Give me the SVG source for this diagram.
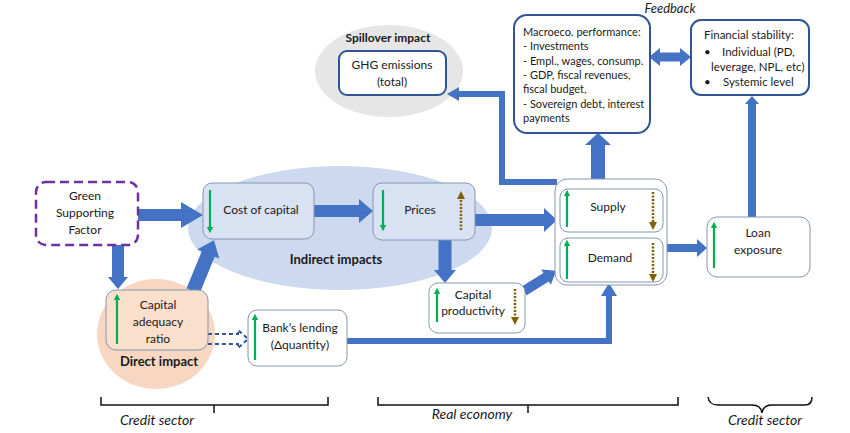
<svg xmlns="http://www.w3.org/2000/svg" width="850" height="433" viewBox="0 0 850 433">
<defs>
<marker id="gh" viewBox="0 0 10 10" refX="5" refY="5" markerWidth="3" markerHeight="3" orient="auto"><path d="M0,0 L10,5 L0,10 z" fill="#00b050"/></marker>
<marker id="bh" viewBox="0 0 10 10" refX="5" refY="5" markerWidth="3.2" markerHeight="3.2" orient="auto"><path d="M0,0 L10,5 L0,10 z" fill="#7f6000"/></marker>
<style>
text{font-family:Lato,"Liberation Sans",sans-serif;font-size:12px;fill:#1a1a1a}
.c{text-anchor:middle}
.b{font-weight:bold}
.i{font-style:italic}
.box{fill:#fff;stroke:#8497b0;stroke-width:1}
.bbox{fill:#fff;stroke:#2f5597;stroke-width:2}
.blk{fill:#4472c4;stroke:none}
.ln{fill:none;stroke:#4472c4}
.g{stroke:#00b050;stroke-width:2.2;fill:none;marker-end:url(#gh)}
.br{stroke:#7f6000;stroke-width:2.5;stroke-dasharray:2,1.5;fill:none;marker-end:url(#bh)}
.brace{fill:none;stroke:#111;stroke-width:1.5}
</style>
</defs>
<rect width="850" height="433" fill="#fff"/>

<!-- background areas -->
<ellipse cx="389" cy="71" rx="74" ry="46" fill="#e7e6e6"/>
<ellipse cx="340" cy="228" rx="152" ry="62" fill="#cdd9ef"/>
<ellipse cx="156" cy="334" rx="59" ry="55" fill="#f8d7c2"/>

<g id="connectors">
<polygon class="blk" points="138,209 181,209 181,202 203,215 181,228 181,221 138,221"/>
<polygon class="blk" points="112,245 124,245 124,277 128,277 118,289 108,277 112,277"/>
<polygon class="blk" points="0,-7 40,-7 40,-12 55,0 40,12 40,7 0,7" transform="translate(193,291) rotate(-67.6)"/>
<polygon class="blk" points="314,205 359,205 359,199 373,211 359,223 359,217 314,217"/>
<polygon class="blk" points="438.5,240 451.5,240 451.5,270 456,270 445,283 434,270 438.5,270"/>
<polygon class="blk" points="475,214 544,214 544,208 557,220 544,232 544,226 475,226"/>
<polygon class="blk" points="0,-5 26,-5 26,-9 38,0 26,9 26,5 0,5" transform="translate(524,291) rotate(-32)"/>
<path class="ln" stroke-width="6" d="M347,341 H609 V296"/>
<polygon class="blk" points="601,296 617,296 609,283"/>
<polygon class="blk" points="667,244 697,244 697,239 707,248 697,257 697,252 667,252"/>
<polygon class="blk" points="748,217 756,217 756,104 759,104 752,96 745,104 748,104"/>
<polygon class="blk" points="591,179 605,179 605,145 611,145 598,133 585,145 591,145"/>
<path class="ln" stroke-width="6" d="M557,182 H502 V94 H458"/>
<polygon class="blk" points="459,87 459,101 447,94"/>
<polygon class="blk" points="649,57 660,48 660,52.5 680,52.5 680,48 691,57 680,66 680,61.5 660,61.5 660,66"/>
<polyline points="208,334 238,334 238,330 248,339 238,348 238,344 208,344" fill="none" stroke="#2f5597" stroke-width="2" stroke-dasharray="4,3"/>
</g>

<g id="gsf">
<rect x="36" y="182" width="102" height="63" rx="10" fill="#fff" stroke="#7030a0" stroke-width="2.5" stroke-dasharray="9,5"/>
<text class="c" x="85" y="200">Green</text>
<text class="c" x="85" y="217">Supporting</text>
<text class="c" x="85" y="234">Factor</text>
</g>

<g id="car">
<rect x="106" y="290" width="102" height="60" rx="10" fill="#fadfcd" stroke="#8497b0" stroke-width="1"/>
<line class="g" x1="117" y1="344" x2="117" y2="297"/>
<text class="c" x="158" y="309">Capital</text>
<text class="c" x="158" y="326">adequacy</text>
<text class="c" x="158" y="343">ratio</text>
<text class="c b" x="159" y="366" style="font-size:13px">Direct impact</text>
</g>

<g id="coc">
<rect x="203" y="183" width="111" height="56" rx="9" fill="#d9e2f3" stroke="#8497b0" stroke-width="1"/>
<line class="g" x1="210" y1="190" x2="210" y2="230"/>
<text class="c" x="261" y="214">Cost of capital</text>
</g>

<g id="prices">
<rect x="373" y="183" width="102" height="57" rx="9" fill="#d9e2f3" stroke="#8497b0" stroke-width="1"/>
<line class="g" x1="383" y1="190" x2="383" y2="228"/>
<line class="br" x1="461" y1="230" x2="461" y2="195"/>
<text class="c" x="420" y="214">Prices</text>
</g>
<text class="c b" x="336" y="264" style="font-size:13px">Indirect impacts</text>

<g id="lending">
<rect x="248" y="310" width="99" height="56" rx="9" class="box"/>
<line class="g" x1="255" y1="360" x2="255" y2="317"/>
<text class="c" x="300" y="332">Bank’s lending</text>
<text class="c" x="300" y="349">(Δquantity)</text>
</g>

<g id="capprod">
<rect x="429" y="283" width="96" height="50" rx="9" class="box"/>
<line class="g" x1="437" y1="322" x2="437" y2="291"/>
<line class="br" x1="515" y1="289" x2="515" y2="321"/>
<text class="c" x="473" y="299">Capital</text>
<text class="c" x="473" y="315">productivity</text>
</g>

<g id="supplydemand">
<rect x="555" y="179" width="112" height="106" rx="12" class="box"/>
<g id="supply">
<rect x="560" y="189" width="103" height="43" rx="8" class="box"/>
<line class="g" x1="567" y1="227" x2="567" y2="193"/>
<line class="br" x1="653" y1="192" x2="653" y2="226"/>
<text class="c" x="608" y="211">Supply</text>
</g>
<g id="demand">
<rect x="560" y="238" width="103" height="44" rx="8" class="box"/>
<line class="g" x1="567" y1="279" x2="567" y2="243"/>
<line class="br" x1="653" y1="243" x2="653" y2="278"/>
<text class="c" x="610" y="262">Demand</text>
</g>
</g>

<g id="loan">
<rect x="707" y="217" width="103" height="60" rx="10" class="box"/>
<line class="g" x1="714" y1="268" x2="714" y2="225"/>
<text class="c" x="758" y="237">Loan</text>
<text class="c" x="758" y="254">exposure</text>
</g>

<g id="finstab">
<rect x="691" y="20" width="118" height="75" rx="10" class="bbox"/>
<text x="704" y="39" style="font-size:11.5px">Financial stability:</text>
<text x="704" y="56" style="font-size:11.5px">•</text>
<text x="722" y="56" style="font-size:11.5px">Individual (PD,</text>
<text x="711" y="71" style="font-size:11.5px">leverage, NPL, etc)</text>
<text x="704" y="86" style="font-size:11.5px">•</text>
<text x="723" y="86" style="font-size:11.5px">Systemic level</text>
</g>

<g id="macro">
<rect x="514" y="15" width="136" height="118" rx="13" class="bbox"/>
<text x="523" y="36" style="font-size:11px">Macroeco. performance:</text>
<text x="523" y="50" style="font-size:11px">- Investments</text>
<text x="523" y="65" style="font-size:11px">- Empl., wages, consump.</text>
<text x="523" y="79" style="font-size:11px">- GDP, fiscal revenues,</text>
<text x="523" y="93" style="font-size:11px">fiscal budget,</text>
<text x="523" y="108" style="font-size:11px">- Sovereign debt, interest</text>
<text x="523" y="122" style="font-size:11px">payments</text>
</g>
<text class="c i" x="670" y="13" style="font-size:13px">Feedback</text>

<g id="ghg">
<text class="c b" x="388" y="42" style="font-size:12px">Spillover impact</text>
<rect x="339" y="51" width="107" height="44" rx="8" class="bbox"/>
<text class="c" x="392" y="69">GHG emissions</text>
<text class="c" x="392" y="86">(total)</text>
</g>

<g id="braces">
<path class="brace" d="M101,397 V405 H328 V397 M214,405 V413"/>
<path class="brace" d="M378,397 V405 H678 V397 M528,405 V413"/>
<path class="brace" d="M708,397 Q709,405 718,405 H752 Q761,405 762,413 Q763,405 772,405 H805 Q812,405 812,397"/>
<text class="c i" x="157" y="425" style="font-size:14px">Credit sector</text>
<text class="c i" x="472" y="419" style="font-size:14px">Real economy</text>
<text class="c i" x="765" y="425" style="font-size:14px">Credit sector</text>
</g>
</svg>
